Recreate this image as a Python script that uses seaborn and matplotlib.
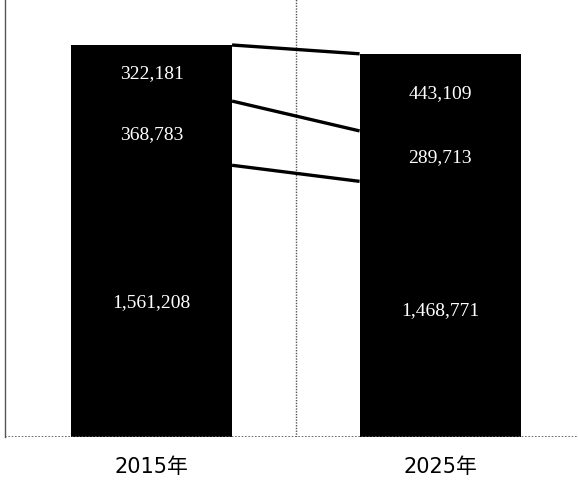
import numpy as np
import pandas as pd
import matplotlib
matplotlib.use("Agg")
import matplotlib.pyplot as plt
import seaborn as sns

years = ["2015年", "2025年"]
bottom_vals = [1561208, 1468771]
middle_vals = [368783, 289713]
top_vals = [322181, 443109]

sns.set_theme(style="white")
plt.rcParams["font.family"] = ["DejaVu Sans", "Noto Sans CJK JP"]

segments = [bottom_vals, middle_vals, top_vals]
cum = np.cumsum(np.array(segments), axis=0)  # running totals per year

fig = plt.figure(figsize=(5.78, 4.81), dpi=100)
ax = fig.add_axes([5 / 578, 43 / 481, 573 / 578, 438 / 481])

# stacked bars: draw the tallest cumulative bar first, then smaller ones on top
for level in range(len(segments) - 1, -1, -1):
    df = pd.DataFrame({"year": years, "value": cum[level]})
    sns.barplot(data=df, x="year", y="value", color="black", width=0.558,
                saturation=1, edgecolor="black", linewidth=0, ax=ax, zorder=3)

# connector lines between segment boundaries of the two bars
half = 0.558 / 2
for level in range(len(segments)):
    ax.plot([0 + half, 1 - half], [cum[level][0], cum[level][1]],
            color="black", lw=2.4, solid_capstyle="butt", zorder=4)

# value labels centred in each segment
for i in range(len(years)):
    base = 0
    for level, seg in enumerate(segments):
        v = seg[i]
        ax.text(i, base + v / 2, f"{v:,}", color="white", ha="center",
                va="center", fontsize=14, family="Liberation Serif", zorder=5)
        base += v

total_max = cum[-1][0]
ax.set_ylim(0, total_max * 438 / 392)
ax.set_xlim(-0.508, 1.478)

ax.axvline(0.5, color="#555555", lw=1, ls=(0, (1, 1)), zorder=1)
ax.axhline(0, color="#555555", lw=1.2, ls=(0, (1, 1)), zorder=6)

for side in ["top", "right", "bottom"]:
    ax.spines[side].set_visible(False)
ax.spines["left"].set_color("#555555")
ax.spines["left"].set_linestyle((0, (1, 1)))
ax.spines["left"].set_linewidth(1)

ax.set_xlabel("")
ax.set_ylabel("")
ax.set_yticks([])
ax.tick_params(axis="x", length=0, pad=14, labelsize=15, labelcolor="black")
ax.set_facecolor("white")
fig.patch.set_facecolor("white")

fig.savefig("out.png", dpi=100)
